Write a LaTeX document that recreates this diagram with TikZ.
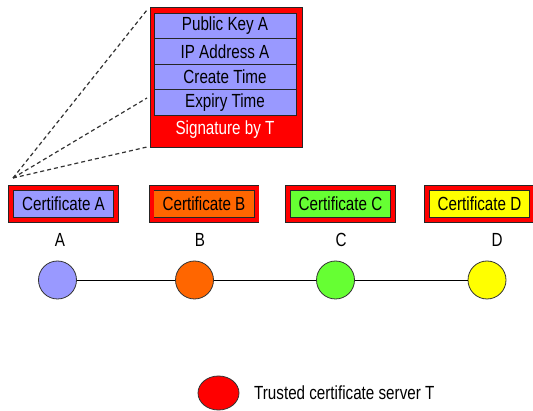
\documentclass[tikz,border=0pt]{standalone}
\usepackage{fontspec}
\setmainfont[FakeStretch=0.8]{Liberation Sans}
\usetikzlibrary{shapes.geometric}
\definecolor{periwinkle}{RGB}{153,153,255}
\definecolor{certorange}{RGB}{255,102,0}
\definecolor{certgreen}{RGB}{102,255,51}
\definecolor{certyellow}{RGB}{255,255,0}
\definecolor{certred}{RGB}{255,0,0}
\begin{document}
\begin{tikzpicture}[x=1pt,y=-1pt,
    every node/.style={font=\fontsize{19}{22}\selectfont},
    cert/.style={draw=black!85,line width=0.8pt,double=certred,double distance=4pt,
      minimum width=105pt,minimum height=32.5pt,inner sep=0pt},
    field/.style={draw=black!85,line width=0.8pt,fill=periwinkle,
      minimum width=142pt,minimum height=25.5pt,inner sep=0pt},
    station/.style={circle,draw=black!80,line width=0.8pt,minimum size=38pt,inner sep=0pt}]
      \useasboundingbox (0,0) rectangle (533,411);
      % zoomed certificate
      \node[draw=black!85,line width=0.8pt,fill=certred,minimum width=152pt,minimum height=140pt,inner sep=0pt] (sig) at (226,77) {};
      \node[field] (pk) at (225,25.75) {Public Key A};
      \node[field] (ip) at (225,51.25) {IP Address A};
      \node[field] (ct) at (225,76.75) {Create Time};
      \node[field] (et) at (225,102.25) {Expiry Time};
      \node[text=white] (sigt) at (225,130) {Signature by T};
      \coordinate (tip) at (13,178);
      \coordinate (z1) at (147,10);
      \coordinate (z2) at (147,98);
      \coordinate (z3) at (147,147);
      \draw[black!80,line width=1.2pt,dash pattern=on 4pt off 3pt] (tip) -- (z1);
      \draw[black!80,line width=1.2pt,dash pattern=on 4pt off 3pt] (tip) -- (z2);
      \draw[black!80,line width=1.2pt,dash pattern=on 4pt off 3pt] (tip) -- (z3);
      % certificates
      \node[cert,fill=periwinkle] (certA) at (63.5,204) {Certificate A};
      \node[cert,fill=certorange] (certB) at (204,204) {Certificate B};
      \node[cert,fill=certgreen] (certC) at (340.5,204) {Certificate C};
      \node[cert,fill=certyellow] (certD) at (479.5,204) {Certificate D};
      % hosts
      \node (labA) at (60,240) {A};
      \node (labB) at (200,240) {B};
      \node (labC) at (341,240) {C};
      \node (labD) at (497,240) {D};
      \node[station,fill=periwinkle] (hA) at (57.5,280) {};
      \node[station,fill=certorange] (hB) at (194.5,280) {};
      \node[station,fill=certgreen] (hC) at (335.5,280) {};
      \node[station,fill=certyellow] (hD) at (487,280) {};
      \draw[line width=0.8pt] (hA) -- (hB) -- (hC) -- (hD);
      % server
      \node[ellipse,draw=black!80,line width=0.8pt,fill=certred,minimum width=41pt,minimum height=34pt,inner sep=0pt] (srv) at (218.5,393) {};
      \node[anchor=west,inner sep=0pt] (srvt) at (254,393) {Trusted certificate server T};
\end{tikzpicture}
\end{document}
